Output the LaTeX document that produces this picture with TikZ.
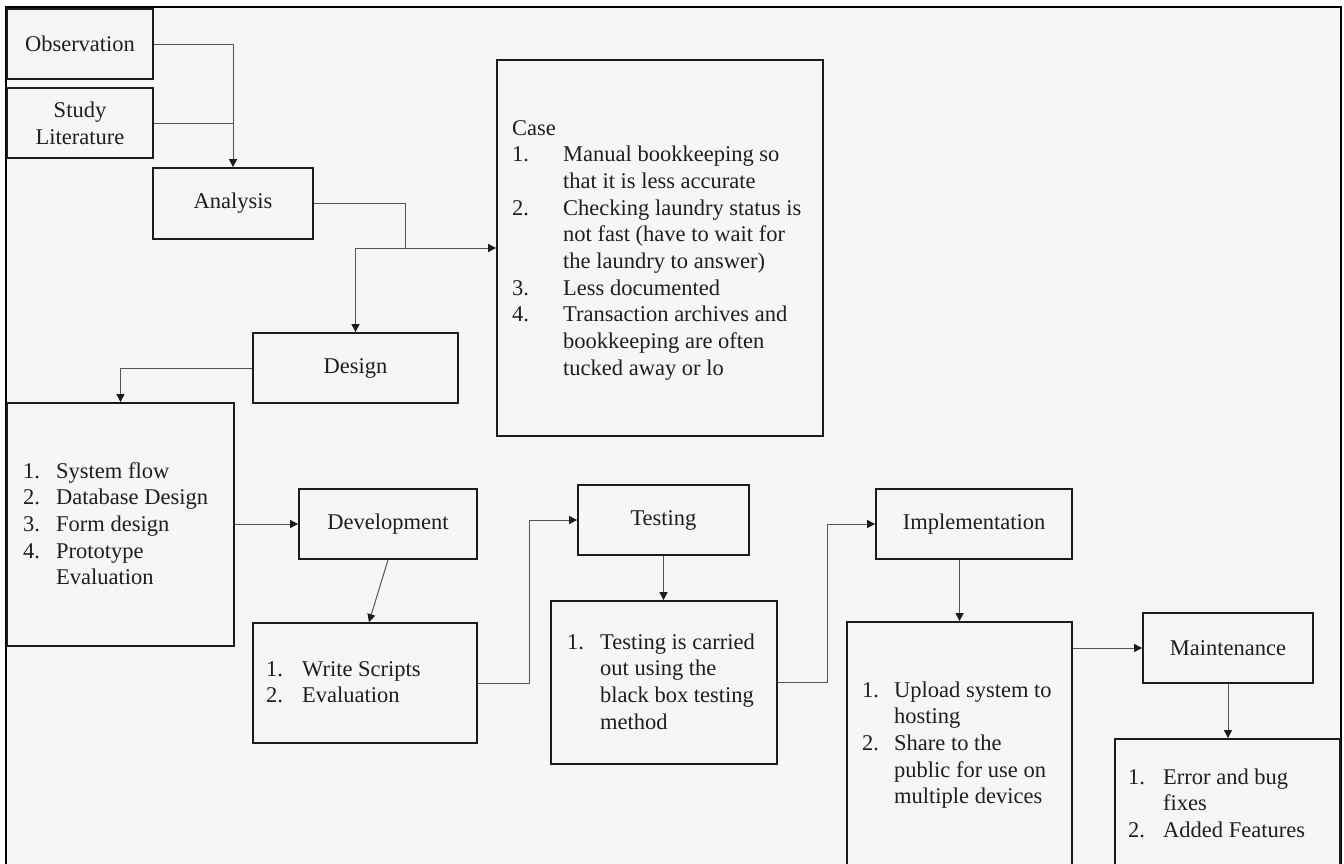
\documentclass[tikz,border=0pt]{standalone}
\usepackage{fontspec}
\setmainfont{Liberation Serif}
\usetikzlibrary{arrows.meta}
\definecolor{bg}{HTML}{F6F6F6}
\definecolor{ln}{HTML}{1C1C1C}
\definecolor{cn}{HTML}{555555}
\definecolor{tx}{HTML}{1E1E1E}
\newcommand\dfont{\fontsize{22.5}{26.7}\selectfont}
\begin{document}
\begin{tikzpicture}[x=1pt,y=-1pt,
  box/.style={draw=ln, line width=1.8pt, inner sep=0pt, font=\dfont, text=tx, align=center},
  txt/.style={anchor=base west, inner sep=0pt, font=\dfont, text=tx},
  conn/.style={draw=cn, line width=1pt},
  arr/.style={conn, -{Triangle[length=8pt,width=8pt,color=ln]}}]
\path[use as bounding box] (0,0) rectangle (1344,863);
\clip (0,0) rectangle (1344,863);
\fill[white] (0,0) rectangle (1344,863);
\draw[fill=bg, draw=black, line width=1.4pt] (6,7) rectangle (1341,920);

% boxes
\node[box, minimum width=146pt, minimum height=70pt] (obs) at (80,44) {Observation};
\node[box, minimum width=146pt, minimum height=70pt] (study) at (80,123) {Study\\Literature};
\node[box, minimum width=160pt, minimum height=71pt] (ana) at (233,203.5) {Analysis};
\node[box, minimum width=205pt, minimum height=70pt] (des) at (355.5,368) {Design};
\node[box, minimum width=326pt, minimum height=376pt] (case) at (660,248) {};
\node[box, minimum width=227pt, minimum height=243pt] (dlist) at (120.5,524.5) {};
\node[box, minimum width=178pt, minimum height=70pt] (dev) at (388,524) {Development};
\node[box, minimum width=224pt, minimum height=120pt] (write) at (365,683) {};
\node[box, minimum width=171pt, minimum height=70pt] (test) at (663.5,520) {Testing};
\node[box, minimum width=226pt, minimum height=163pt] (tlist) at (664,682.5) {};
\node[box, minimum width=196pt, minimum height=70pt] (impl) at (974,524) {Implementation};
\node[box, minimum width=225pt, minimum height=320pt] (ilist) at (959.5,782) {};
\node[box, minimum width=170pt, minimum height=70pt] (maint) at (1228,648) {Maintenance};
\node[box, minimum width=225pt, minimum height=200pt] (mlist) at (1227.5,839) {};

% texts
\node[txt] (casetxt) at (512,135) {\begin{tabular}[t]{@{}p{51pt}@{}l@{}}
\multicolumn{2}{@{}l@{}}{Case}\\
1. & Manual bookkeeping so\\
   & that it is less accurate\\
2. & Checking laundry status is\\
   & not fast (have to wait for\\
   & the laundry to answer)\\
3. & Less documented\\
4. & Transaction archives and\\
   & bookkeeping are often\\
   & tucked away or lo
\end{tabular}};
\node[txt] (dtxt) at (23,478) {\begin{tabular}[t]{@{}p{33pt}@{}l@{}}
1. & System flow\\
2. & Database Design\\
3. & Form design\\
4. & Prototype\\
   & Evaluation
\end{tabular}};
\node[txt] (wtxt) at (266,676) {\begin{tabular}[t]{@{}p{36pt}@{}l@{}}
1. & Write Scripts\\
2. & Evaluation
\end{tabular}};
\node[txt] (ttxt) at (567,649) {\begin{tabular}[t]{@{}p{33pt}@{}l@{}}
1. & Testing is carried\\
   & out using the\\
   & black box testing\\
   & method
\end{tabular}};
\node[txt] (itxt) at (862,697) {\begin{tabular}[t]{@{}p{32pt}@{}l@{}}
1. & Upload system to\\
   & hosting\\
2. & Share to the\\
   & public for use on\\
   & multiple devices
\end{tabular}};
\node[txt] (mtxt) at (1128,784) {\begin{tabular}[t]{@{}p{35pt}@{}l@{}}
1. & Error and bug\\
   & fixes\\
2. & Added Features
\end{tabular}};

% connectors
\coordinate (j1) at (405,248);
\draw[arr] (obs.east) -| (ana.north);
\draw[conn] (study.east) -- (study.east -| ana.north);
\draw[conn] (ana.east) -| (j1);
\draw[arr] (j1) -- (case.west |- j1);
\draw[arr] (j1) -| (des.north);
\draw[arr] (des.west) -| (dlist.north);
\draw[arr] (dlist.east |- dev.west) -- (dev.west);
\draw[arr] (dev.south) -- ([xshift=4pt]write.north);
\draw[arr] (write.east) -- ++(52,0) |- (test.west);
\draw[arr] (test.south) -- (tlist.north -| test.south);
\draw[arr] (tlist.east) -- ++(50,0) |- (impl.west);
\draw[arr] (impl.south -| ilist.north) -- (ilist.north);
\draw[arr] (ilist.east |- maint.west) -- (maint.west);
\draw[arr] (maint.south) -- (mlist.north -| maint.south);
\end{tikzpicture}
\end{document}
